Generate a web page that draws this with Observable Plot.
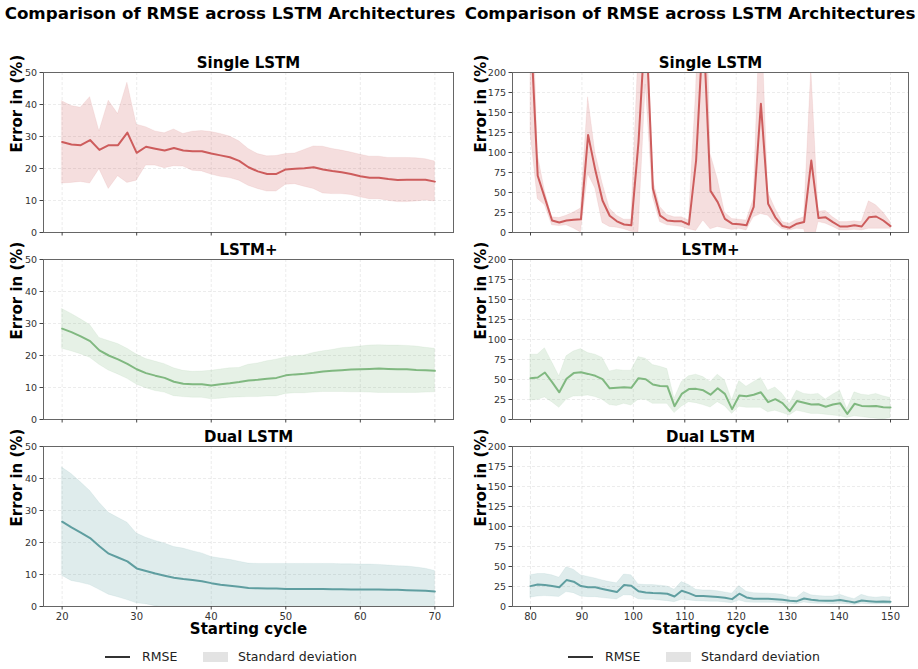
<!DOCTYPE html>
<html>
<head>
<meta charset="utf-8">
<script src="https://cdn.jsdelivr.net/npm/d3@7"></script>
<script src="https://cdn.jsdelivr.net/npm/@observablehq/plot@0.6"></script>
<style>
  html, body { margin: 0; padding: 0; background: #fff; }
  #root { position: relative; width: 918px; height: 669px; background: #fff; font-family: "DejaVu Sans", sans-serif; overflow: hidden; }
  .abs { position: absolute; }
  .suptitle { font-weight: bold; font-size: 16.7px; color: #000; white-space: nowrap; transform: translateX(-50%); }
  .legend { font-size: 12.5px; color: #222; white-space: nowrap; }
</style>
</head>
<body>
<div id="root"></div>
<script>
// ---------------- data ----------------
const cyclesA = [20, 21.25, 22.5, 23.75, 25, 26.25, 27.5, 28.75, 30, 31.25, 32.5, 33.75, 35, 36.25, 37.5, 38.75, 40, 41.25, 42.5, 43.75, 45, 46.25, 47.5, 48.75, 50, 51.25, 52.5, 53.75, 55, 56.25, 57.5, 58.75, 60, 61.25, 62.5, 63.75, 65, 66.25, 67.5, 68.75, 70];
const cyclesB = [80, 81.4, 82.8, 84.2, 85.6, 87, 88.4, 89.8, 91.2, 92.6, 94, 95.4, 96.8, 98.2, 99.6, 101, 102.4, 103.8, 105.2, 106.6, 108, 109.4, 110.8, 112.2, 113.6, 115, 116.4, 117.8, 119.2, 120.6, 122, 123.4, 124.8, 126.2, 127.6, 129, 130.4, 131.8, 133.2, 134.6, 136, 137.4, 138.8, 140.2, 141.6, 143, 144.4, 145.8, 147.2, 148.6, 150];

const ticksXA = [20, 30, 40, 50, 60, 70];
const ticksXB = [80, 90, 100, 110, 120, 130, 140, 150];
const ticksYA = [0, 10, 20, 30, 40, 50];
const ticksYB = [0, 25, 50, 75, 100, 125, 150, 175, 200];

const modelNames = ["Single LSTM", "LSTM+", "Dual LSTM"];
const suptitleText = "Comparison of RMSE across LSTM Architectures";
const yLabelText = "Error in (%)";
const xLabelText = "Starting cycle";
const legendLabels = ["RMSE", "Standard deviation"];

// Left column (cycles 20-70)
const singleA_mean = [28.3,27.5,27.3,28.9,25.8,27.3,27.3,31.2,24.9,26.8,26.2,25.6,26.4,25.6,25.4,25.4,24.7,24.1,23.5,22.4,20.4,19.1,18.3,18.3,19.7,19.9,20.1,20.4,19.7,19.2,18.8,18.3,17.6,17.1,17.1,16.7,16.4,16.5,16.5,16.5,15.9];
const singleA_lo = [15.3,15.5,15.8,15.3,19.8,13.6,17.6,15.5,16.2,20.9,20.9,20.1,20.7,20.6,19.3,19.1,18.1,17.4,17,16.2,14.6,13.6,12.8,12.8,14.9,15.1,14.3,13.6,12.2,12,12,11.7,11,10.4,10.4,9.9,9.5,9.5,9.7,10,9.7];
const singleA_hi = [41,39.5,39,42.3,31.6,41.2,37,46.8,33.7,32.9,31.6,31,32.2,30.8,31.5,31.7,31.4,30.8,30,28.5,26.1,24.5,23.8,23.9,24.5,24.7,25.8,26.9,26.8,26.1,25.6,25,24.3,23.7,23.7,23.3,23.3,23.3,23.2,22.9,22.2];

const plusA_mean = [28.4,27.3,26,24.5,21.6,20,18.8,17.4,15.7,14.5,13.7,13,11.8,11.2,11,11,10.6,11,11.3,11.7,12.2,12.4,12.7,13,13.8,14.1,14.3,14.6,15,15.2,15.4,15.6,15.7,15.8,15.9,15.8,15.7,15.7,15.5,15.4,15.2];
const plusA_lo = [22.1,21.3,20.4,19.3,17.1,15.3,14.1,12.7,10.9,9.8,8.9,8.4,7.3,7,6.8,6.8,6.3,6.5,6.8,6.9,7,7,7.2,7.2,8,8.2,8.2,8.4,8.6,8.6,8.6,8.5,8.5,8.4,8.3,8.3,8.3,8.3,8.3,8.4,8.5];
const plusA_hi = [34.5,33,31.3,29.5,25.5,24.5,23.6,22.1,20.3,18.9,18.1,17.3,16,15.2,14.9,15,15.2,15.6,16,16.1,17.1,17.5,18.2,18.7,19.4,19.8,20,20.8,21.3,21.7,22.3,22.5,22.8,23.1,23.2,23.1,23.1,23,22.8,22.4,22.1];

const dualA_mean = [26.5,24.7,23.1,21.4,18.8,16.5,15.3,14.1,11.9,11.1,10.3,9.6,9,8.6,8.3,7.9,7.3,6.8,6.5,6.2,5.8,5.7,5.6,5.6,5.5,5.5,5.5,5.5,5.5,5.4,5.4,5.3,5.3,5.3,5.3,5.2,5.2,5.1,5,4.9,4.7];
const dualA_lo = [9.6,8,7.4,6.7,5.2,3.7,2.9,2,1,0.7,0.1,-0.5,-0.6,-0.9,-0.7,-0.8,-0.9,-1.4,-1.6,-1.6,-1.8,-1.9,-2.1,-2.1,-2.3,-2.3,-2.3,-2.3,-2.3,-2.5,-2.4,-2.6,-2.5,-2.5,-2.4,-2.4,-2.2,-2.3,-2.2,-2,-1.7];
const dualA_hi = [43.4,41.4,38.8,36.1,32.4,29.3,27.7,26.2,22.8,21.5,20.5,19.7,18.6,18.1,17.3,16.6,15.5,15,14.6,14,13.4,13.3,13.3,13.3,13.3,13.3,13.3,13.3,13.3,13.3,13.2,13.2,13.1,13.1,13,12.8,12.6,12.5,12.2,11.8,11.1];

// Right column (cycles 80-150)
const singleB_mean = [260,71,43,15,12.5,15,16,16.5,122,78,40,21,14,10,9,113,270,55,21,15,14,14,10,90,260,52,38,17,11,10.4,9,32,161,36,19,8,6,11,13,90,18,19,13,7.5,7.5,9,7.5,19,20,15,8];
const singleB_lo = [125,42,34,9,8,9,5,0,73,55,12,7,6,4,1,0,185,44,13,9,8,7,4,2,15,4,7,5,3,4.6,2.5,19,23,21,11,4,2.5,4.6,4,-25,13,11,7,2.5,2.5,3.3,2.5,4.6,4.6,4.6,4.6];
const singleB_hi = [395,98,52,19,18,21,25,30,169,100,62,30,21,16,16,226,340,67,32,22,19,19,15,178,480,98,67,25,17,16,15,42,299,50,30,13,11,16,19,205,26,27,19,13,13,14,13,39,34,25,13];

const plusB_mean = [51.7,52.5,58.75,46.7,34,51,58,59,57,54.6,50.4,39,39.6,40.4,39.6,51.7,50.4,43.75,42,41.7,16.7,32,38,38.3,36.5,31,39,32,13,30,29,31,34,21.7,25.4,20.4,10.4,23,21,18.75,19,16,18.75,20.4,7,19.6,17,16.7,17,15.4,15];
const plusB_lo = [23.75,24.6,27.5,21.7,14.6,24.6,28.75,29,30,28,24.6,18,17,19.6,17.5,24.6,24.6,19.6,19.6,19.6,8,16,21.7,20.4,18,15,21.7,16.7,7,16,14.6,14.6,14.6,9,11,8,5,11,9,7,7,6,5,4,2,4,3,2,1,0,2];
const plusB_hi = [81,81,89,71.7,54,79,85,88,83,81,77,60,62,61,61,78,76,68,66,63,26,46.7,54,56,53,46.7,56,49,24,48,41,46.7,52,36,40,32,19.6,36,32,31,32,25,31,36,13,34,31,30,32,29,27];

const dualB_mean = [25.5,27.6,27,25.5,24,33,31,25.5,24,24,22,20,18,26.8,26,19,17.6,17,16.7,16,12.5,19.7,16.7,13,13,12.5,12,11,9.2,16,11.3,9.6,9.6,9.6,9.2,8.4,7.1,6.7,10,8.4,7.5,7.1,7.1,8,6.7,5,7.5,6.7,5.9,6.3,5.9];
const dualB_lo = [11,12.5,13,12.5,12,18,16.7,12.5,11.7,11.7,10.5,9.6,8.8,14,13.8,9,8.4,8.4,7.5,6.7,5.4,8.4,7.5,6.7,6.3,5.9,5.9,5,4.2,7.5,5,4.6,4.6,4.6,4.6,3.8,3.3,2.9,5,3.8,3.3,3.3,2.9,3.3,2.9,2,3.3,2.9,2.5,2.9,2.5];
const dualB_hi = [39,40.6,40.6,39,36,49,46,39,37,35,32.6,30.5,29,40,39,27.6,26.8,26.8,26,25,21,30.5,26.8,21,20,20,19,17.6,16,25.5,18.4,16.7,16.3,16,15.5,14.6,11.7,11,18,14,13,12.5,12.5,14.6,11.7,9.2,14.6,12,11,12,11.3];

const colors = ["#cd5c5c", "#80b880", "#5f9ea0"];

// ---------------- layout ----------------
const root = document.getElementById("root");
const frameTops = [72, 259, 446];
const frameH = 160;
const MT = 30, MB = 45;

const columns = [
  { left: 0, width: 460, ml: 43, mr: 7, xs: cyclesA, xDomain: [17.5, 72.5], xTicks: ticksXA, yDomain: [0, 50], yTicks: ticksYA, yLabelDx: -26,
    series: [[singleA_mean, singleA_lo, singleA_hi], [plusA_mean, plusA_lo, plusA_hi], [dualA_mean, dualA_lo, dualA_hi]] },
  { left: 460, width: 458, ml: 52, mr: 10, xs: cyclesB, xDomain: [76.5, 153.5], xTicks: ticksXB, yDomain: [0, 200], yTicks: ticksYB, yLabelDx: -31,
    series: [[singleB_mean, singleB_lo, singleB_hi], [plusB_mean, plusB_lo, plusB_hi], [dualB_mean, dualB_lo, dualB_hi]] }
];

columns.forEach((col) => {
  col.series.forEach(([mean, lo, hi], r) => {
    const data = col.xs.map((x, i) => ({ x, m: mean[i], lo: lo[i], hi: hi[i] }));
    const color = colors[r];
    const last = r === 2;
    const marks = [
      Plot.gridX(col.xTicks, { stroke: "#bbbbbb", strokeOpacity: 0.35, strokeDasharray: "3,2", strokeWidth: 0.8 }),
      Plot.gridY(col.yTicks, { stroke: "#bbbbbb", strokeOpacity: 0.35, strokeDasharray: "3,2", strokeWidth: 0.8 }),
      Plot.areaY(data, { x: "x", y1: "lo", y2: "hi", fill: color, fillOpacity: 0.2, stroke: color, strokeOpacity: 0.12, strokeWidth: 0.8, clip: true }),
      Plot.lineY(data, { x: "x", y: "m", stroke: color, strokeWidth: 2, clip: true }),
      Plot.frame({ stroke: "#666", strokeWidth: 1 }),
      Plot.axisX(col.xTicks, { anchor: "bottom", tickSize: 3.5, tickPadding: 3, fontSize: 10, stroke: "#444", fill: "#333", label: null, tickFormat: last ? (d) => String(d) : () => "" }),
      Plot.axisY(col.yTicks, { anchor: "left", tickSize: 3.5, tickPadding: 3, fontSize: 9.5, stroke: "#444", fill: "#333", label: null }),
      Plot.text([modelNames[r]], { text: (d) => d, frameAnchor: "top", lineAnchor: "middle", dy: -9, fontSize: 15, fontWeight: "bold", fill: "#000" }),
      Plot.text([yLabelText], { text: (d) => d, frameAnchor: "left", lineAnchor: "middle", rotate: -90, dx: col.yLabelDx, fontSize: 15, fontWeight: "bold", fill: "#000" })
    ];
    if (last) {
      marks.push(Plot.text([xLabelText], { text: (d) => d, frameAnchor: "bottom", lineAnchor: "middle", dy: 23, fontSize: 15, fontWeight: "bold", fill: "#000" }));
    }
    const svg = Plot.plot({
      width: col.width,
      height: frameH + MT + MB,
      marginTop: MT, marginBottom: MB, marginLeft: col.ml, marginRight: col.mr,
      style: { background: "transparent", overflow: "visible", fontFamily: "DejaVu Sans, sans-serif" },
      x: { domain: col.xDomain },
      y: { domain: col.yDomain },
      marks
    });
    svg.style.position = "absolute";
    svg.style.left = col.left + "px";
    svg.style.top = (frameTops[r] - MT) + "px";
    root.appendChild(svg);
  });
});

// titles
[230, 690].forEach((cx) => {
  const t = document.createElement("div");
  t.className = "abs suptitle";
  t.style.left = cx + "px";
  t.style.top = "3px";
  t.textContent = suptitleText;
  root.appendChild(t);
});

// legends
[105, 568].forEach((x0) => {
  const line = document.createElement("div");
  line.className = "abs";
  Object.assign(line.style, { left: x0 + "px", top: "656px", width: "25px", height: "0", borderTop: "2px solid #333" });
  root.appendChild(line);
  const t1 = document.createElement("div");
  t1.className = "abs legend";
  Object.assign(t1.style, { left: (x0 + 37) + "px", top: "649px" });
  t1.textContent = legendLabels[0];
  root.appendChild(t1);
  const box = document.createElement("div");
  box.className = "abs";
  Object.assign(box.style, { left: (x0 + 98) + "px", top: "652px", width: "25px", height: "10px", background: "#e3e3e3" });
  root.appendChild(box);
  const t2 = document.createElement("div");
  t2.className = "abs legend";
  Object.assign(t2.style, { left: (x0 + 133) + "px", top: "649px" });
  t2.textContent = legendLabels[1];
  root.appendChild(t2);
});
</script>
</body>
</html>
